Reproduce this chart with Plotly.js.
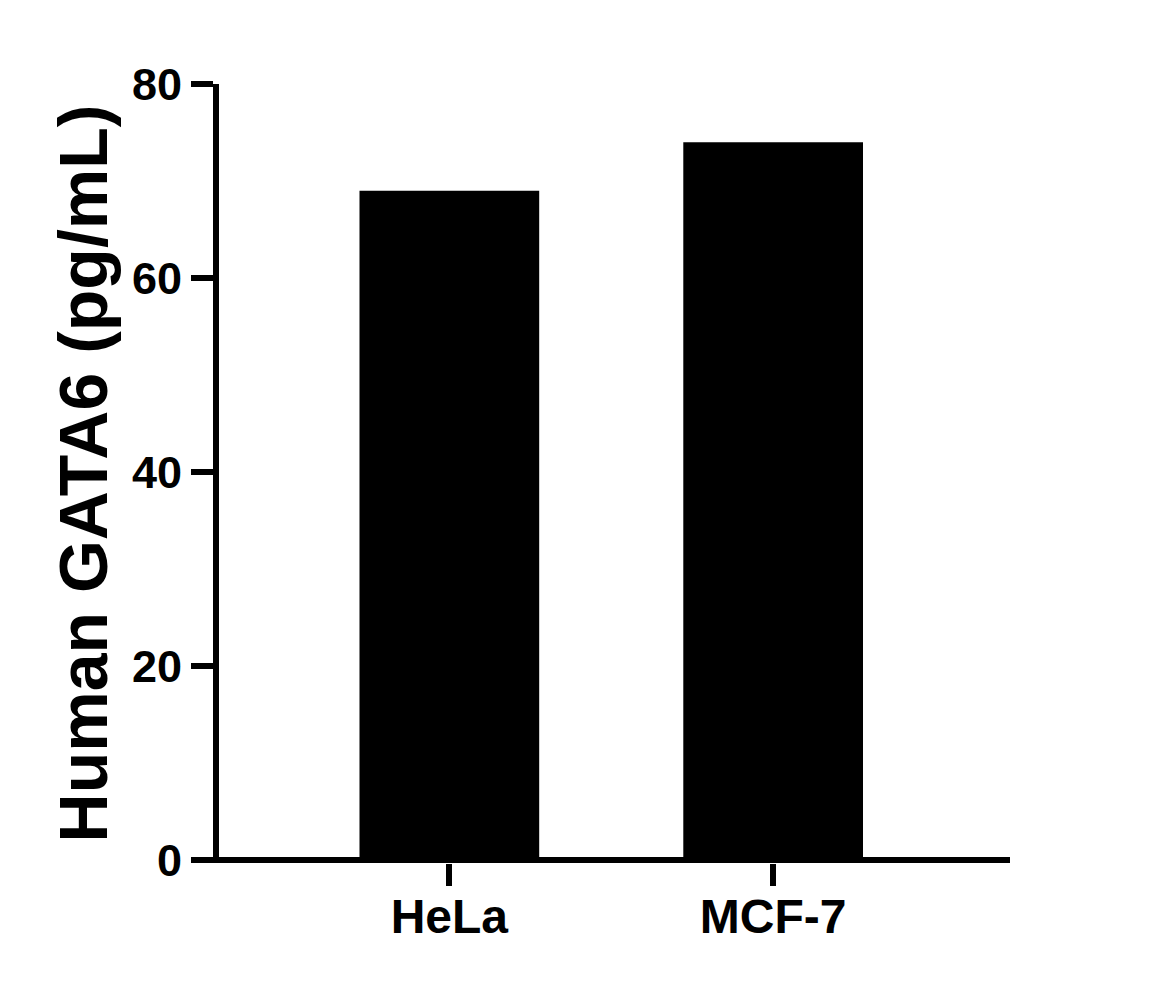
<!DOCTYPE html>
<html>
<head>
<meta charset="utf-8">
<script src="https://cdn.plot.ly/plotly-3.0.1.min.js"></script>
<style>html,body{margin:0;padding:0;background:#fff;}#chart{width:1159px;height:986px;}</style>
</head>
<body>
<div id="chart"></div>
<script>
var categories = ["HeLa", "MCF-7"];
var values = [69, 74];
var yTickVals = [0, 20, 40, 60, 80];
var yTickText = ["0", "20", "40", "60", "80"];
var yTitle = "Human GATA6 (pg/mL)";

var fontFam = "Liberation Sans, Arial, sans-serif";

var trace = {
  type: "bar",
  x: [0, 1],
  y: values,
  width: 0.555,
  marker: {color: "#000000", line: {width: 0}},
  hoverinfo: "skip"
};

var layout = {
  width: 1159,
  height: 986,
  paper_bgcolor: "#ffffff",
  plot_bgcolor: "#ffffff",
  showlegend: false,
  margin: {l: 218.5, r: 149, t: 84, b: 123.1, pad: 0},
  font: {family: fontFam, color: "#000000"},
  xaxis: {
    range: [-0.7114, 1.7315],
    tickmode: "array",
    tickvals: [0, 1],
    ticktext: categories,
    ticks: "outside",
    ticklen: 22,
    tickwidth: 6,
    tickcolor: "#000",
    showline: false,
    showgrid: false,
    zeroline: false,
    ticklabelstandoff: -11,
    tickfont: {family: fontFam, size: 48, color: "#000", weight: "bold"},
    fixedrange: true
  },
  yaxis: {
    range: [-0.3, 80],
    tickmode: "array",
    tickvals: yTickVals,
    ticktext: yTickText,
    ticks: "outside",
    ticklen: 22,
    tickwidth: 6,
    tickcolor: "#000",
    showline: true,
    linewidth: 6,
    linecolor: "#000",
    showgrid: false,
    zeroline: true,
    zerolinewidth: 6,
    zerolinecolor: "#000",
    ticklabelstandoff: 0,
    tickfont: {family: fontFam, size: 45, color: "#000", weight: "bold"},
    title: {text: "<b>" + yTitle + "</b>", font: {family: fontFam, size: 68, color: "#000"}, standoff: 4},
    automargin: false,
    fixedrange: true
  }
};

Plotly.newPlot("chart", [trace], layout, {displayModeBar: false, staticPlot: true});
</script>
</body>
</html>
